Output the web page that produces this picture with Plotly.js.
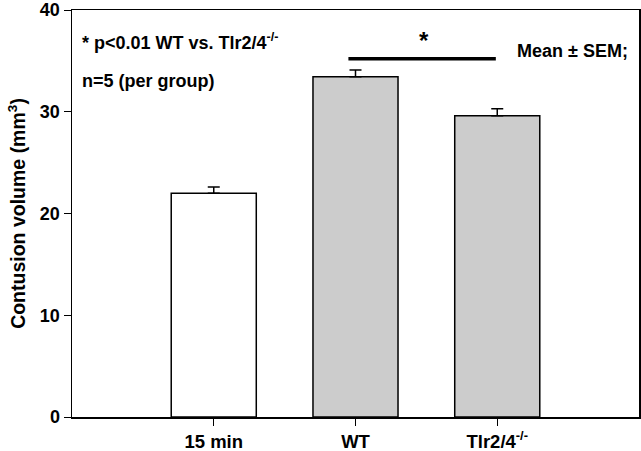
<!DOCTYPE html>
<html><head><meta charset="utf-8">
<script src="https://cdn.plot.ly/plotly-3.0.1.min.js"></script>
<style>body{margin:0;padding:0;background:#fff}#chart{width:641px;height:451px}</style>
</head><body><div id="chart"></div>
<script>
const categories = ["15 min", "WT", "Tlr2/4<sup>-/-</sup>"];
const means = [22.0, 33.45, 29.6];
const sems = [0.6, 0.65, 0.7];
const barColors = ["#ffffff", "#cccccc", "#cccccc"];
const yTicks = [0, 10, 20, 30, 40];
const sigPair = [1, 2];
const sigY = 35.2;

const font = {family: "Liberation Sans, Arial, sans-serif", color: "#000"};
const trace = {
  type: "bar", x: [0, 1, 2], y: means, width: 0.6,
  marker: {color: barColors, line: {color: "#000", width: 1.5}},
  error_y: {type: "data", array: sems, arrayminus: sems.map(() => 0), symmetric: false, color: "#000", thickness: 1.5, width: 6},
  hoverinfo: "none"
};
const layout = {
  width: 641, height: 451,
  margin: {l: 72, r: 2, t: 10, b: 34},
  paper_bgcolor: "#fff", plot_bgcolor: "#fff",
  showlegend: false,
  xaxis: {range: [-1, 3], tickvals: [0, 1, 2], ticktext: categories, ticks: "outside", ticklen: 7, tickwidth: 1, tickcolor: "#000",
          showline: true, linecolor: "#000", linewidth: 1.5, mirror: true, showgrid: false, zeroline: false,
          tickfont: {...font, size: 18.5, weight: "bold"}},
  yaxis: {range: [0, 40], tickvals: yTicks, ticktext: yTicks.map(String), ticks: "outside", ticklen: 7, tickwidth: 1, tickcolor: "#000",
          showline: true, linecolor: "#000", linewidth: 1.5, mirror: true, showgrid: false, zeroline: false,
          ticklabeloverflow: "allow",
          tickfont: {...font, size: 18, weight: "bold"},
          title: {text: "Contusion volume (mm<sup>3</sup>)", font: {...font, size: 19.5, weight: "bold"}, standoff: 9}},
  shapes: [{type: "line", xref: "x", yref: "y", x0: sigPair[0] - 0.05, x1: sigPair[1] - 0.01, y0: sigY, y1: sigY, line: {color: "#000", width: 3.5}}],
  annotations: [
    {xref: "x", yref: "y", x: (sigPair[0] + sigPair[1]) / 2 - 0.02, y: sigY + 1.8, text: "*", showarrow: false, font: {...font, size: 24, weight: "bold"}},
    {xref: "paper", yref: "paper", x: 0.014, y: 0.955, xanchor: "left", text: "* p<0.01 WT vs. Tlr2/4<sup>-/-</sup>", showarrow: false, font: {...font, size: 18, weight: "bold"}},
    {xref: "paper", yref: "paper", x: 0.014, y: 0.855, xanchor: "left", text: "n=5 (per group)", showarrow: false, font: {...font, size: 18, weight: "bold"}},
    {xref: "paper", yref: "paper", x: 0.985, y: 0.928, xanchor: "right", text: "Mean ± SEM;", showarrow: false, font: {...font, size: 18, weight: "bold"}}
  ]
};
Plotly.newPlot("chart", [trace], layout, {staticPlot: true});
</script></body></html>
